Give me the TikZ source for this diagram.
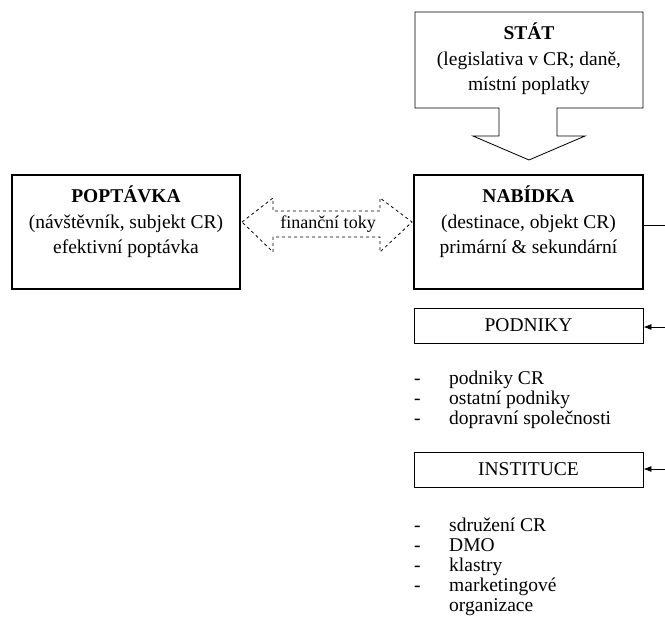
\documentclass[tikz,border=0pt]{standalone}
\usepackage{fontspec}
\setmainfont{Liberation Serif}
\usetikzlibrary{arrows.meta}
\begin{document}
\begin{tikzpicture}[x=1pt,y=-1pt,
  txt/.style={font=\fontsize{19.5}{25.5}\selectfont, align=center, inner sep=0pt},
  bigbox/.style={draw, line width=1.6pt},
  smallbox/.style={draw, line width=0.8pt},
  lst/.style={font=\fontsize{19.5}{20}\selectfont, anchor=base west, inner sep=0pt},
  conn/.style={line width=0.8pt},
  arr/.style={line width=0.8pt, -{Latex[length=8pt,width=6pt]}}]
\useasboundingbox (0,0) rectangle (665,637);
\coordinate (dx) at (414,0);
% STAT callout
\draw[line width=0.8pt] (415,12) -- (643,12) -- (643,108) -- (557,108) -- (557,136) -- (585,136)
  -- (529,160) -- (473,136) -- (499,136) -- (499,108) -- (415,108) -- cycle;
\node[txt] (stat) at (529,59) {\textbf{STÁT}\\(legislativa v CR; daně,\\místní poplatky};
% POPTAVKA
\draw[bigbox] (12,175) rectangle (240,289);
\node[txt] (popt) at (126,222) {\textbf{POPTÁVKA}\\(návštěvník, subjekt CR)\\efektivní poptávka};
% NABIDKA
\draw[bigbox] (414,175) rectangle (643,289);
\node[txt] (nab) at (528.5,222) {\textbf{NABÍDKA}\\(destinace, objekt CR)\\primární \& sekundární};
\coordinate (nabR) at (643,225);
\coordinate (edge1) at (665,225);
\draw[conn] (nabR) -- (edge1);
% dashed double arrow
\draw[dashed, line width=0.8pt] (242,222) -- (273,198) -- (273,211) -- (380,211) -- (380,198) -- (412,222)
  -- (380,252) -- (380,237) -- (273,237) -- (273,252) -- cycle;
\node[font=\fontsize{18}{20}\selectfont, inner sep=0pt] (fin) at (328,224) {finanční toky};
% PODNIKY
\node[smallbox, minimum width=229pt, minimum height=35pt, inner sep=0pt, font=\fontsize{19.5}{20}\selectfont] (pod) at (528.5,325.5) {PODNIKY};
\coordinate (e2) at (665,327);
\draw[arr] (e2) -- (pod.east |- e2);
\node[lst] (p1) at (449,384) {podniky CR};
\node[lst] (p2) at (449,404) {ostatní podniky};
\node[lst] (p3) at (449,424) {dopravní společnosti};
\node[lst] (p1d) at (p1.base -| dx) {-};
\node[lst] (p2d) at (p2.base -| dx) {-};
\node[lst] (p3d) at (p3.base -| dx) {-};
% INSTITUCE
\node[smallbox, minimum width=229pt, minimum height=35pt, inner sep=0pt, font=\fontsize{19.5}{20}\selectfont] (inst) at (528.5,469.5) {INSTITUCE};
\coordinate (e3) at (665,469);
\draw[arr] (e3) -- (inst.east |- e3);
\node[lst] (i1) at (449,531) {sdružení CR};
\node[lst] (i2) at (449,551) {DMO};
\node[lst] (i3) at (449,571) {klastry};
\node[lst] (i4) at (449,591) {marketingové};
\node[lst] (i5) at (449,611) {organizace};
\node[lst] (i1d) at (i1.base -| dx) {-};
\node[lst] (i2d) at (i2.base -| dx) {-};
\node[lst] (i3d) at (i3.base -| dx) {-};
\node[lst] (i4d) at (i4.base -| dx) {-};
\end{tikzpicture}
\end{document}
